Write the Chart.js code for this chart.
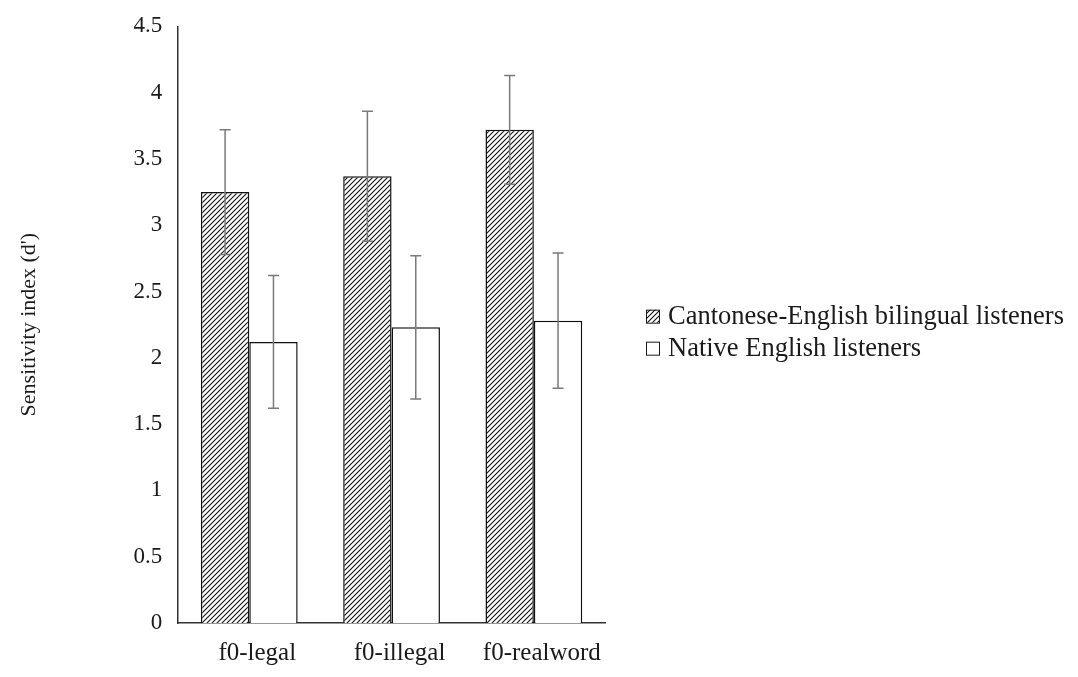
<!DOCTYPE html>
<html>
<head>
<meta charset="utf-8">
<script src="https://cdn.jsdelivr.net/npm/chart.js@4.4.1/dist/chart.umd.min.js"></script>
<style>
    html, body { margin: 0; padding: 0; background: #fff; }
    #wrap { width: 1078px; height: 677px; }
</style>
</head>
<body>
<div id="wrap"><canvas id="sensChart"></canvas></div>
<script>
// data
const categories = ['f0-legal', 'f0-illegal', 'f0-realword'];
const seriesNames = ['Cantonese-English bilingual listeners', 'Native English listeners'];
const bilingualMeans = [3.25, 3.37, 3.72];
const bilingualErr = [0.47, 0.49, 0.41];
const nativeMeans = [2.12, 2.23, 2.28];
const nativeErr = [0.5, 0.54, 0.51];
const yTicks = [0, 0.5, 1, 1.5, 2, 2.5, 3, 3.5, 4, 4.5];

const serif = "'Liberation Serif', 'Times New Roman', serif";
const ink = '#1a1a1a';

// diagonal hatch fill for the bilingual bars
function makeHatch() {
    const size = 5;
    const c = document.createElement('canvas');
    c.width = size; c.height = size;
    const g = c.getContext('2d');
    g.fillStyle = '#fff';
    g.fillRect(0, 0, size, size);
    g.strokeStyle = '#111';
    g.lineWidth = 1.1;
    g.beginPath();
    g.moveTo(0, size); g.lineTo(size, 0);
    g.moveTo(-1, 1); g.lineTo(1, -1);
    g.moveTo(size - 1, size + 1); g.lineTo(size + 1, size - 1);
    g.stroke();
    return g.createPattern(c, 'repeat');
}

// draws the +/- error whiskers using the chart scales
const errorBars = {
    id: 'errorBars',
    afterDatasetsDraw(chart) {
        const ctx = chart.ctx;
        const yScale = chart.scales.y;
        const errs = [bilingualErr, nativeErr];
        ctx.save();
        ctx.strokeStyle = '#7a7a7a';
        ctx.lineWidth = 1.5;
        chart.data.datasets.forEach((ds, i) => {
            const meta = chart.getDatasetMeta(i);
            meta.data.forEach((bar, j) => {
                const v = ds.data[j];
                const top = yScale.getPixelForValue(v + errs[i][j]);
                const bot = yScale.getPixelForValue(v - errs[i][j]);
                const x = bar.x;
                ctx.beginPath();
                ctx.moveTo(x, top); ctx.lineTo(x, bot);
                ctx.moveTo(x - 5.5, top); ctx.lineTo(x + 5.5, top);
                ctx.moveTo(x - 5.5, bot); ctx.lineTo(x + 5.5, bot);
                ctx.stroke();
            });
        });
        ctx.restore();
    }
};

// legend to the right of the plot (built-in one gets squeezed)
const sideLegend = {
    id: 'sideLegend',
    afterDraw(chart) {
        const ctx = chart.ctx;
        const area = chart.chartArea;
        const x0 = area.right + 41;
        let y = (area.top + area.bottom) / 2 - 8;
        ctx.save();
        ctx.font = `26.5px ${serif}`;
        ctx.textBaseline = 'middle';
        chart.data.datasets.forEach((ds) => {
            ctx.fillStyle = ds.backgroundColor;
            ctx.fillRect(x0, y - 7, 13, 13);
            ctx.strokeStyle = ink;
            ctx.lineWidth = 1;
            ctx.strokeRect(x0 + 0.5, y - 6.5, 13, 13);
            ctx.fillStyle = ink;
            ctx.fillText(ds.label, x0 + 22, y);
            y += 32;
        });
        ctx.restore();
    }
};

document.addEventListener('DOMContentLoaded', () => {
    const ctx = document.getElementById('sensChart').getContext('2d');
    new Chart(ctx, {
        type: 'bar',
        data: {
            labels: categories,
            datasets: [{
                label: seriesNames[0],
                data: bilingualMeans,
                backgroundColor: makeHatch(),
                borderColor: '#111',
                borderWidth: 1.5,
                borderSkipped: 'bottom'
            }, {
                label: seriesNames[1],
                data: nativeMeans,
                backgroundColor: '#fff',
                borderColor: '#111',
                borderWidth: 1.5,
                borderSkipped: 'bottom'
            }]
        },
        options: {
            responsive: true,
            maintainAspectRatio: false,
            animation: false,
            datasets: {
                bar: { categoryPercentage: 0.68, barPercentage: 1.0 }
            },
            layout: { padding: { left: 16, top: 0, right: 473, bottom: -6 } },
            plugins: {
                tooltip: { enabled: false },
                legend: { display: false }
            },
            scales: {
                y: {
                    min: 0,
                    max: 4.5,
                    afterBuildTicks: (axis) => { axis.ticks = yTicks.map(v => ({ value: v })); },
                    grid: { display: false, drawTicks: false },
                    border: { display: true, color: '#333', width: 1.5 },
                    ticks: {
                        color: ink,
                        padding: 16,
                        font: { family: serif, size: 23, lineHeight: 0.9 },
                        callback: (v) => String(v)
                    },
                    title: {
                        display: true,
                        text: "Sensitivity index (d')",
                        color: ink,
                        padding: { top: 0, bottom: 75 },
                        font: { family: serif, size: 22 }
                    }
                },
                x: {
                    grid: { display: false, drawTicks: false },
                    border: { display: true, color: '#333', width: 1.5 },
                    ticks: { color: ink, padding: 15, labelOffset: 8, font: { family: serif, size: 25 } }
                }
            }
        },
        plugins: [errorBars, sideLegend]
    });
});
</script>
</body>
</html>
